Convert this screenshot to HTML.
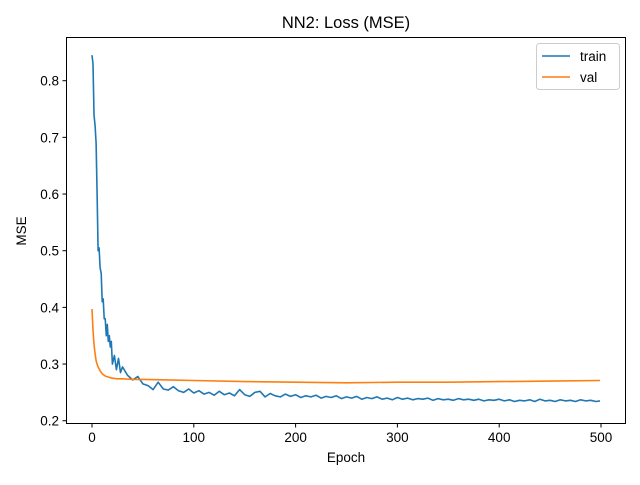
<!DOCTYPE html>
<html><head><meta charset="utf-8"><style>
body{margin:0;background:#fff}
svg text{font-family:"Liberation Sans","DejaVu Sans",sans-serif;fill:#000}
</style></head><body>
<svg id="chart" width="640" height="480" viewBox="0 0 640 480">
<rect x="0" y="0" width="640" height="480" fill="#fff"/>
<text x="346" y="28" font-size="16.5" text-anchor="middle">NN2: Loss (MSE)</text>
<g id="plot"></g>
<rect x="66.5" y="37.5" width="559" height="386" fill="none" stroke="#000" stroke-width="1"/>
<text x="346" y="462" font-size="13.5" text-anchor="middle">Epoch</text>
<text x="26" y="231" font-size="13.5" text-anchor="middle" transform="rotate(-90 26 231)">MSE</text>
<g>
<rect x="536.5" y="43.5" width="83" height="46" rx="3" fill="#fff" stroke="#ccc"/>
<line x1="542" y1="56" x2="570" y2="56" stroke="#1f77b4" stroke-width="1.6"/>
<text x="580" y="61" font-size="13.5">train</text>
<line x1="542" y1="77" x2="570" y2="77" stroke="#ff7f0e" stroke-width="1.6"/>
<text x="580" y="82" font-size="13.5">val</text>
</g>
</svg>
<script>
const xTicks = [0, 100, 200, 300, 400, 500];
const yTicks = [0.2, 0.3, 0.4, 0.5, 0.6, 0.7, 0.8];
const trainEpochs = [0,1,2,3,4,5,6,7,8,9,10,11,12,13,14,15,16,17,18,19,20,22,24,26,28,30,35,40,45,50,55,60,65,70,75,80,85,90,95,100,105,110,115,120,125,130,135,140,145,150,155,160,165,170,175,180,185,190,195,200,205,210,215,220,225,230,235,240,245,250,255,260,265,270,275,280,285,290,295,300,305,310,315,320,325,330,335,340,345,350,355,360,365,370,375,380,385,390,395,400,405,410,415,420,425,430,435,440,445,450,455,460,465,470,475,480,485,490,495,499];
const trainLoss = [0.845,0.83,0.74,0.72,0.69,0.60,0.50,0.505,0.47,0.46,0.41,0.415,0.38,0.38,0.35,0.37,0.34,0.35,0.33,0.34,0.30,0.315,0.29,0.31,0.285,0.295,0.28,0.272,0.278,0.265,0.262,0.255,0.268,0.256,0.254,0.26,0.253,0.25,0.256,0.249,0.253,0.247,0.25,0.245,0.252,0.246,0.249,0.244,0.255,0.246,0.243,0.25,0.252,0.242,0.248,0.244,0.242,0.247,0.243,0.246,0.241,0.244,0.242,0.245,0.24,0.243,0.241,0.244,0.239,0.242,0.24,0.243,0.238,0.241,0.239,0.242,0.238,0.24,0.237,0.241,0.238,0.24,0.237,0.239,0.238,0.24,0.236,0.239,0.237,0.238,0.236,0.239,0.237,0.238,0.236,0.238,0.235,0.237,0.236,0.238,0.235,0.237,0.234,0.236,0.235,0.237,0.234,0.238,0.235,0.236,0.234,0.237,0.235,0.236,0.234,0.237,0.235,0.236,0.234,0.235];
const valEpochs = [0,1,2,3,4,5,6,8,10,13,16,20,25,30,40,50,75,100,150,200,250,300,350,400,450,499];
const valLoss = [0.397,0.36,0.335,0.318,0.306,0.30,0.295,0.288,0.283,0.279,0.277,0.275,0.274,0.274,0.273,0.273,0.272,0.271,0.269,0.268,0.267,0.268,0.268,0.269,0.270,0.271];
const sx = e => 92 + e * 1.018;
const sy = v => 80.7 + (0.8 - v) * 566.7;
const NS = 'http://www.w3.org/2000/svg';
const plot = document.getElementById('plot');
function mk(tag, attrs){const el=document.createElementNS(NS,tag);for(const k in attrs)el.setAttribute(k,attrs[k]);plot.appendChild(el);return el;}
xTicks.forEach(t=>{
  const l=mk('line',{x1:sx(t),x2:sx(t),y1:424,y2:427.5,stroke:'#000'});
  
  
  const tx=mk('text',{x:sx(t),y:442,'font-size':13.5,'text-anchor':'middle'});
  tx.textContent=t;
  
  
});
yTicks.forEach(t=>{
  const l=mk('line',{x1:62.5,x2:66,y1:sy(t),y2:sy(t),stroke:'#000'});
  
  
  const tx=mk('text',{x:59,y:sy(t)+5,'font-size':13.5,'text-anchor':'end'});
  tx.textContent=t.toFixed(1);
  
  
});
const tp=mk('path',{d:trainEpochs.map((e,i)=>(i?'L':'M')+sx(e).toFixed(1)+' '+sy(trainLoss[i]).toFixed(1)).join(''),fill:'none',stroke:'#1f77b4','stroke-width':1.6,'stroke-linejoin':'round'});


const vp=mk('path',{d:valEpochs.map((e,i)=>(i?'L':'M')+sx(e).toFixed(1)+' '+sy(valLoss[i]).toFixed(1)).join(''),fill:'none',stroke:'#ff7f0e','stroke-width':1.6,'stroke-linejoin':'round'});


</script>
</body></html>
